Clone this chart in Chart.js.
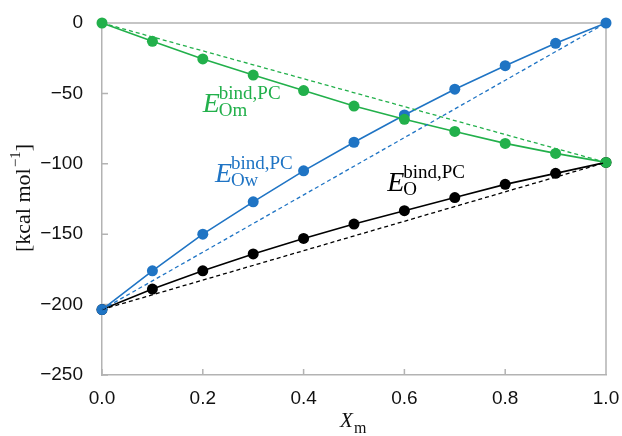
<!DOCTYPE html>
<html>
<head>
<meta charset="utf-8">
<script src="https://cdn.jsdelivr.net/npm/chart.js@4.4.1/dist/chart.umd.min.js"></script>
<style>
  html, body { margin: 0; padding: 0; background: #fff; }
</style>
</head>
<body>
<canvas id="chart" width="622" height="436"></canvas>
<script>
// Data
const xValues = [0.0, 0.1, 0.2, 0.3, 0.4, 0.5, 0.6, 0.7, 0.8, 0.9, 1.0];
const omValues = [0, -13, -25.5, -37, -48, -59, -68.4, -77, -85.5, -92.6, -99];
const owValues = [-203.5, -176, -150, -127, -105, -84.7, -65.3, -47, -30.3, -14.4, 0];
const oValues = [-203.5, -189, -176, -164, -153, -142.8, -133.3, -124, -114.6, -106.8, -99];
const xTicks = [0.0, 0.2, 0.4, 0.6, 0.8, 1.0];
const yTicks = [-250, -200, -150, -100, -50, 0];

const GREEN = '#22b04b';
const BLUE = '#1f74c4';
const BLACK = '#000000';
const AXIS = '#b3b3b3';
const TEXT = '#111';

function points(ys) {
  return xValues.map((x, i) => ({ x: x, y: ys[i] }));
}

// straight reference line between the two end values of a series
function endLine(ys) {
  const last = xValues.length - 1;
  return [{ x: xValues[0], y: ys[0] }, { x: xValues[last], y: ys[last] }];
}

function solid(ys, color) {
  return {
    data: points(ys), showLine: true, borderColor: color, backgroundColor: color,
    borderWidth: 1.6, pointRadius: 5.5, pointHoverRadius: 5.5, pointBorderWidth: 0, clip: false
  };
}

function dashed(ys, color) {
  return {
    data: endLine(ys), showLine: true, borderColor: color, borderWidth: 1.3,
    borderDash: [4, 3], pointRadius: 0, clip: false
  };
}

// series labels: subscript text, anchor in data units, colour
const seriesLabels = [
  { sub: 'Om', x: 0.2, y: -66, color: GREEN },
  { sub: 'Ow', x: 0.224, y: -115.8, color: BLUE },
  { sub: 'O', x: 0.566, y: -122.2, color: BLACK }
];

const framePlugin = {
  id: 'frame',
  beforeDatasetsDraw(chart) {
    const { ctx, chartArea: a, scales } = chart;
    ctx.save();
    ctx.strokeStyle = AXIS;
    ctx.lineWidth = 1.5;
    ctx.beginPath();
    ctx.moveTo(a.left, a.top); ctx.lineTo(a.right, a.top); ctx.lineTo(a.right, a.bottom);
    // inside tick marks
    xTicks.forEach(v => {
      const px = scales.x.getPixelForValue(v);
      ctx.moveTo(px, a.bottom); ctx.lineTo(px, a.bottom - 6);
    });
    yTicks.forEach(v => {
      const py = scales.y.getPixelForValue(v);
      ctx.moveTo(a.left, py); ctx.lineTo(a.left + 6, py);
    });
    ctx.stroke();
    ctx.restore();
  },
  afterDraw(chart) {
    const { ctx, scales } = chart;
    ctx.save();
    ctx.textAlign = 'left';
    ctx.textBaseline = 'alphabetic';
    seriesLabels.forEach(l => {
      const px = scales.x.getPixelForValue(l.x);
      const py = scales.y.getPixelForValue(l.y);
      ctx.fillStyle = l.color;
      ctx.font = 'italic 28px "Liberation Serif"';
      ctx.fillText('E', px, py - 4);
      ctx.font = '19px "Liberation Serif"';
      ctx.fillText('bind,PC', px + 16, py - 17);
      ctx.fillText(l.sub, px + 16, py);
    });

    // x axis title
    ctx.fillStyle = TEXT;
    ctx.font = 'italic 21px "Liberation Serif"';
    ctx.fillText('X', 340, 427);
    ctx.font = '16px "Liberation Serif"';
    ctx.fillText('m', 354, 433);

    // y axis title, rotated
    ctx.translate(24, 198);
    ctx.rotate(-Math.PI / 2);
    const big = '22px "Liberation Serif"';
    const small = '15px "Liberation Serif"';
    ctx.font = big; const w1 = ctx.measureText('[kcal mol').width;
    ctx.font = small; const w2 = ctx.measureText('\u22121').width;
    ctx.font = big; const w3 = ctx.measureText(']').width;
    let x0 = -(w1 + w2 + w3 + 1) / 2;
    ctx.textBaseline = 'middle';
    ctx.font = big; ctx.fillText('[kcal mol', x0, 0);
    ctx.font = small; ctx.fillText('\u22121', x0 + w1 + 1, -8);
    ctx.font = big; ctx.fillText(']', x0 + w1 + w2 + 1, 0);
    ctx.restore();
  }
};

new Chart(document.getElementById('chart').getContext('2d'), {
  type: 'scatter',
  data: {
    datasets: [
      dashed(omValues, GREEN),
      dashed(owValues, BLUE),
      dashed(oValues, BLACK),
      solid(omValues, GREEN),
      solid(owValues, BLUE),
      solid(oValues, BLACK)
    ]
  },
  options: {
    responsive: false,
    animation: false,
    layout: { padding: { top: 23, right: 16, left: 0, bottom: 0 } },
    plugins: { legend: { display: false }, tooltip: { enabled: false } },
    scales: {
      x: {
        type: 'linear', min: 0, max: 1,
        afterFit(scale) {
          scale.height = 61;
          scale.paddingLeft = 0; scale.paddingRight = 0;
        },
        afterBuildTicks(scale) { scale.ticks = xTicks.map(v => ({ value: v })); },
        grid: { display: false, drawTicks: false },
        border: { display: true, color: AXIS, width: 1.5 },
        ticks: {
          padding: 12, color: TEXT, font: { family: '"Liberation Sans"', size: 19 },
          callback: v => v.toFixed(1)
        }
      },
      y: {
        type: 'linear', min: -250, max: 0,
        afterFit(scale) {
          scale.width = 102;
          scale.paddingTop = 0; scale.paddingBottom = 0;
        },
        afterBuildTicks(scale) { scale.ticks = yTicks.map(v => ({ value: v })); },
        grid: { display: false, drawTicks: false },
        border: { display: true, color: AXIS, width: 1.5 },
        ticks: {
          padding: 19, color: TEXT, font: { family: '"Liberation Sans"', size: 19 },
          callback: v => String(v).replace('-', '\u2212')
        }
      }
    }
  },
  plugins: [framePlugin]
});
</script>
</body>
</html>
